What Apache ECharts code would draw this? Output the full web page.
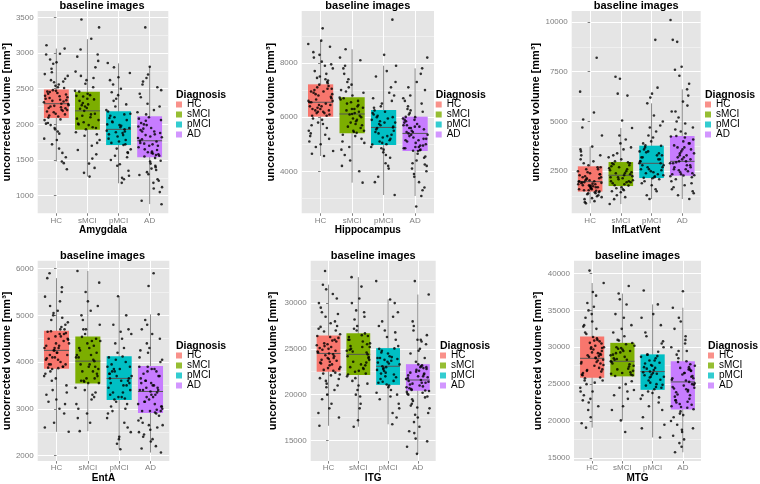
<!DOCTYPE html>
<html>
<head>
<meta charset="utf-8">
<script src="https://cdn.jsdelivr.net/npm/echarts@6/dist/echarts.min.js"></script>
<style>
html, body { margin: 0; padding: 0; background: #fff; }
#chart { width: 760px; height: 484px; }
</style>
</head>
<body>
<div id="chart"></div>
<script>
var diagnoses = ['HC', 'sMCI', 'pMCI', 'AD'];
var regions = ['Amygdala', 'Hippocampus', 'InfLatVent', 'EntA', 'ITG', 'MTG'];
var colors = ['#F8766D', '#7CAE00', '#00BFC4', '#C77CFF'];

// tick labels (major) and minor grid values per region
var amygdalaTicks = [1000, 1500, 2000, 2500, 3000, 3500];
var amygdalaMinor = [750, 1250, 1750, 2250, 2750, 3250];
var hippoTicks = [4000, 6000, 8000];
var hippoMinor = [3000, 5000, 7000, 9000];
var inflatTicks = [2500, 5000, 7500, 10000];
var inflatMinor = [1250, 3750, 6250, 8750];
var entaTicks = [2000, 3000, 4000, 5000, 6000];
var entaMinor = [2500, 3500, 4500, 5500];
var itgTicks = [15000, 20000, 25000, 30000];
var itgMinor = [17500, 22500, 27500, 32500];
var mtgTicks = [15000, 20000, 25000, 30000, 35000, 40000];
var mtgMinor = [17500, 22500, 27500, 32500, 37500];

// box stats: [lower whisker, Q1, median, Q3, upper whisker] for HC, sMCI, pMCI, AD
var amygdalaBox = [[1480, 2090, 2290, 2490, 3063], [1268, 1926, 2190, 2457, 3195], [1174, 1710, 1930, 2184, 2856], [882, 1540, 1770, 2114, 2809]];
var hippoBox = [[4566, 6018, 6550, 7212, 8825], [3582, 5403, 6117, 6732, 8505], [3126, 4972, 5620, 6265, 7900], [3089, 4750, 5400, 6018, 7803]];
var inflatBox = [[890, 1480, 1980, 2750, 3740], [855, 1759, 2300, 2965, 4673], [1105, 2161, 2900, 3786, 5913], [1105, 2278, 3000, 4271, 6616]];
var entaBox = [[2507, 3859, 4250, 4669, 5796], [2521, 3542, 4020, 4549, 5950], [2134, 3190, 3650, 4127, 5408], [2063, 2908, 3370, 3915, 5021]];
var itgBox = [[16600, 22500, 24500, 26448, 32010], [16500, 22140, 24400, 26700, 32835], [16760, 21065, 23100, 25085, 30394], [13530, 20420, 21600, 23326, 30933]];
var mtgBox = [[19100, 25873, 28500, 31444, 38708], [20080, 26052, 28100, 30597, 37282], [17763, 24225, 26700, 29037, 35811], [15758, 21550, 25300, 28102, 35365]];

// individual volumes (jittered points), one list per diagnosis
var amygdalaPts = [
  [2310, 1870, 2455, 2640, 2150, 2980, 2205, 1720, 2380, 2520, 2095, 1456, 2260, 2705, 2345, 1990, 2420, 2870, 2180, 1600, 2480, 2285, 2560, 2125, 3063, 1930, 2360, 2240, 2780, 1370, 2440, 2020, 2600, 2170, 1800, 2395, 2910, 2225, 2470, 3110, 1480, 2330, 2680, 2110,
   2230, 2510, 1950, 2400, 2070, 2620, 2340, 1780, 2460, 2190, 2850, 2270, 1660, 2370, 2140, 2540, 2010, 2290, 2730, 2200, 1900, 2430, 2320, 2590, 2060, 2990, 2250, 1540],
  [2190, 1780, 2410, 3050, 1950, 2620, 2080, 1520, 2300, 2890, 1990, 2460, 1390, 2250, 2740, 2140, 3470, 1860, 2360, 1640, 2520, 2030, 3360, 1268, 2220, 2800, 1930, 2400, 1700, 2120, 2980, 2280,
   2000, 2350, 1840, 2470, 2100, 2680, 1580, 2230, 2950, 1960, 2390, 2060, 1450, 2330, 2150, 2570, 1890, 3200, 2270, 1740, 2430, 2010, 2650, 1320],
  [1930, 1560, 2150, 2500, 1740, 2060, 1420, 2860, 1850, 2330, 1280, 1990, 2620, 1720, 1890, 2200, 1180, 2040, 1610, 2410, 1800, 1230, 2100, 2720, 1960, 1500, 2280, 1660, 2000, 1880, 2560, 1350,
   1760, 2090, 1900, 2250, 1650, 1980, 2450, 1540, 1830, 2180, 1710, 2800, 1950, 1440, 2120, 1780, 2360, 1910, 1250, 2030, 1600, 2660, 1860, 2140],
  [1770, 1420, 2050, 2480, 1600, 1900, 1230, 2700, 1680, 2200, 1550, 1050, 1830, 2380, 1360, 1990, 1120, 1720, 2600, 1580, 2100, 1290, 1860, 3360, 1490, 1950, 930, 1640, 2290, 1810, 1180, 2000, 1560, 2809, 1740, 1400, 2140, 880, 1620, 2560, 1700, 1300, 2080, 1900,
   1650, 1880, 1450, 2020, 1760, 1330, 2170, 1590, 1940, 1210, 1700, 2430, 1530, 1850, 2060, 1380, 1790, 2520, 1610, 1970, 1100, 1730, 2250, 1480, 1920, 1570, 2650, 1820]
];
var hippoPts = [
  [6550, 5600, 7100, 7800, 6200, 6900, 5200, 8300, 6400, 7400, 4900, 6700, 8050, 6050, 7250, 5800, 6600, 4566, 7000, 8600, 6300, 5400, 7600, 6150, 6850, 9280, 5950, 7150, 6450, 5100, 7900, 6250, 6750, 8825, 5700, 7300, 6350, 4750, 6950, 8200, 6100, 7500, 5300, 6500,
   6650, 7050, 5900, 6300, 7350, 6800, 5500, 6150, 7700, 6450, 5000, 6950, 6050, 7450, 6600, 5750, 8400, 6250, 7200, 6550, 5350, 6850, 7950, 6400, 4650, 7050, 6200, 8700],
  [6117, 5100, 6600, 7400, 5500, 6300, 4600, 8100, 5800, 7000, 5420, 6500, 3582, 5950, 7800, 6200, 4900, 6720, 5300, 8505, 6000, 7200, 4200, 6400, 5650, 6900, 5450, 7600, 6050, 4400, 6650, 5850,
   6250, 5700, 6800, 5350, 6450, 7100, 5050, 6150, 7900, 5600, 6550, 4800, 5900, 7300, 6350, 5500, 6700, 4000, 6100, 8200, 5750, 6950, 5200, 6300],
  [5620, 4700, 6100, 6900, 5100, 5800, 4300, 7500, 5350, 6500, 4990, 5950, 3800, 5500, 8300, 6250, 4500, 5700, 7900, 5000, 6000, 9600, 5250, 6700, 4100, 5750, 3126, 6200, 5450, 7100, 4850, 5900,
   5300, 6050, 5650, 4800, 6350, 5150, 5850, 7300, 4600, 5550, 6600, 5050, 6150, 4200, 5400, 6800, 5800, 3600, 5200, 6400, 4900, 7700, 5600, 6000],
  [5400, 4500, 5900, 6600, 4800, 5600, 4000, 7300, 5100, 6200, 4760, 5700, 3600, 5300, 7000, 4900, 6010, 3089, 5500, 8200, 4650, 6400, 5200, 3900, 5800, 4780, 6800, 5000, 2700, 5450, 7803, 4300, 5950, 5150, 6100, 3400, 5650, 4850, 7600, 5350, 4200, 5750, 6300, 4950,
   5250, 4850, 5650, 6150, 4550, 5050, 5850, 6500, 4100, 5350, 4750, 7100, 5550, 3800, 5900, 4950, 6250, 5200, 4400, 5700, 3300, 5450, 6700, 4900, 5600, 4250, 6000, 5150]
];
var inflatPts = [
  [1950, 1500, 2400, 3100, 1700, 2100, 1200, 3740, 1800, 2600, 1550, 2000, 1000, 2250, 3300, 1650, 1900, 8200, 1350, 2500, 1750, 2900, 1450, 2050, 6500, 1850, 890, 2200, 1600, 4700, 2700, 1400, 1980, 5450, 1100, 2350, 1720, 3500, 1520, 2150, 4300, 1880, 5100, 1300,
   1800, 2300, 1450, 2050, 2700, 1650, 1950, 1250, 2450, 1850, 3000, 1550, 2150, 1750, 3600, 1400, 2600, 1920, 1150, 2200, 1700, 2800, 1600, 2000, 950, 2350, 1780, 3300],
  [2300, 1800, 2900, 3900, 2000, 2500, 1300, 4673, 2150, 3300, 1780, 2700, 855, 2400, 7250, 1950, 3100, 1500, 2600, 6400, 2050, 3600, 1100, 2800, 7150, 2200, 4100, 1650, 2450, 5050, 1900, 2950,
   2100, 2650, 1850, 3000, 2350, 1450, 2750, 1950, 3400, 2250, 1600, 2850, 2000, 4300, 2550, 1200, 2400, 3700, 1700, 2900, 6300, 2200, 3200, 1550],
  [2900, 2200, 3700, 4800, 2500, 3200, 1500, 5913, 2700, 4200, 2170, 3400, 1105, 3000, 9100, 2400, 3780, 1800, 2800, 6700, 3500, 2300, 5300, 2000, 3100, 6200, 2600, 4500, 1300, 3300, 2150, 3900,
   3100, 2600, 3500, 2250, 3800, 2900, 4000, 1900, 3300, 2700, 5000, 2450, 3600, 2100, 4700, 3000, 1600, 3450, 2550, 6400, 3200, 2350, 4300, 2800],
  [3000, 2300, 4200, 5500, 2700, 3500, 1600, 6616, 3200, 4700, 2290, 3800, 1105, 3400, 10100, 2600, 4270, 1900, 3100, 9100, 2500, 5200, 1400, 3700, 7600, 2800, 4500, 2000, 3300, 9000, 2400, 6000, 1700, 3900, 7300, 2900, 4900, 2100, 3600, 7750, 2350, 5800, 1300, 4100,
   3200, 2700, 3900, 2450, 4250, 3000, 5000, 2200, 3600, 2900, 6300, 2550, 3400, 1800, 4600, 3100, 2350, 5500, 2800, 3700, 1500, 4000, 2600, 6900, 3300, 2250, 4400, 2950]
];
var entaPts = [
  [4250, 3700, 4600, 5200, 3950, 4400, 3300, 5600, 4100, 4850, 3870, 4500, 2900, 4300, 5400, 4000, 4660, 3500, 4200, 5796, 3900, 5000, 2507, 4350, 5900, 3100, 4550, 4050, 4750, 3600, 4150, 5100, 3880, 4450, 2700, 4300, 5300, 3800, 4620, 3200, 4080, 4950, 3400, 4480,
   4300, 3950, 4700, 4100, 3750, 4550, 4900, 3350, 4200, 4650, 3900, 5050, 4400, 3000, 4150, 4800, 3650, 4350, 5500, 3850, 4500, 4050, 3150, 4600, 4250, 2600, 4700, 3950],
  [4020, 3400, 4450, 5100, 3600, 4200, 2900, 5950, 3800, 4700, 3550, 4300, 2521, 3900, 5500, 4100, 3200, 4540, 3700, 5300, 3000, 4350, 3580, 4800, 2700, 3950, 4500, 3650, 4150, 3300, 4900, 3850,
   3900, 4300, 3650, 4600, 3450, 4150, 5000, 3750, 4400, 2800, 4050, 3600, 5700, 3950, 4250, 3350, 4700, 3100, 4450, 3800, 5200, 3550, 4100, 3250],
  [3650, 3000, 4050, 4600, 3250, 3800, 2600, 5408, 3450, 4300, 3200, 3900, 2134, 3550, 5000, 3700, 2800, 4120, 3350, 4700, 2350, 3750, 3220, 4400, 2500, 3600, 3950, 3100, 4200, 2900, 3500, 3850,
   3550, 3850, 3300, 4000, 3150, 3700, 4500, 2950, 3600, 3250, 4100, 2700, 3800, 3400, 4650, 3050, 3500, 2250, 3900, 3350, 4800, 3650, 2400, 3750],
  [3370, 2800, 3800, 4400, 3000, 3500, 2400, 5021, 3200, 4100, 2920, 3600, 2063, 3300, 4700, 2600, 3900, 3100, 5900, 2450, 3700, 2950, 4250, 2200, 3450, 3050, 4600, 2700, 3400, 5630, 2500, 3850, 3150, 4000, 2300, 3550, 2980, 4800, 2650, 3250, 3750, 2850, 4300, 3400,
   3300, 3600, 3050, 3850, 2950, 3450, 4200, 2750, 3500, 3150, 4500, 2550, 3650, 2900, 3250, 4050, 2350, 3400, 3700, 2650, 3900, 3100, 4900, 2950, 3550, 2150, 3350, 3800]
];
var itgPts = [
  [24500, 21800, 26000, 28500, 23000, 25200, 19500, 30500, 24000, 27200, 22600, 25600, 17500, 23600, 29500, 24800, 20800, 26400, 23300, 32010, 21000, 25000, 16600, 24200, 33500, 22200, 27800, 23800, 25800, 20000, 24600, 31000, 22700, 26200, 18500, 23500, 28000, 21500, 25400, 19000, 24900, 27500, 22900, 30000,
   24000, 25300, 22800, 26300, 23400, 27000, 21200, 24700, 25900, 22300, 28800, 23900, 25100, 20500, 24300, 26600, 22100, 29000, 23700, 25500, 18000, 24400, 26900, 21700, 23200, 27400, 22400, 31500],
  [24400, 21000, 26000, 29000, 22500, 25200, 19000, 32835, 23500, 27500, 22200, 25800, 16500, 24000, 30500, 23000, 26690, 20000, 24800, 31800, 21500, 25500, 17200, 26300, 22800, 28200, 23800, 19800, 25000, 22300, 27000, 24200,
   25200, 23600, 26400, 22600, 24900, 28500, 21800, 25600, 23300, 30000, 24600, 20500, 26000, 22900, 27200, 24100, 18500, 25300, 23200, 29200, 22000, 26500, 24700, 21200],
  [23100, 20000, 24500, 27500, 21500, 23800, 18500, 30394, 22300, 26000, 21100, 24000, 16760, 22800, 29000, 23400, 19500, 25050, 22000, 32400, 20500, 24800, 17500, 23600, 21300, 28500, 22600, 19000, 24200, 21700, 26800, 23000,
   22700, 24100, 21400, 23900, 20800, 25000, 22200, 27000, 23300, 19800, 24600, 21900, 26300, 23500, 18000, 22900, 25300, 21000, 24000, 30000, 22400, 20200, 23700, 28000],
  [21600, 19000, 22800, 26000, 20000, 22000, 17000, 30933, 21000, 24500, 20450, 22500, 14300, 21300, 28000, 19800, 23300, 16000, 22200, 32400, 18500, 23000, 20600, 25500, 13530, 21800, 20200, 27000, 18000, 22600, 21100, 24000, 15200, 20800, 23100, 19500, 26500, 17500, 21500, 22900, 15800, 20400, 25000, 18800,
   21300, 22700, 20100, 23200, 19300, 21900, 24800, 20700, 22300, 17800, 21700, 26000, 20500, 23000, 18600, 22100, 20900, 27500, 21400, 16500, 22400, 19700, 23600, 20300, 25800, 21200, 14900, 22000]
];
var mtgPts = [
  [28500, 25000, 30500, 33500, 26500, 29200, 22500, 38708, 27500, 32000, 25900, 29800, 19700, 28000, 36000, 27000, 31400, 23500, 28800, 40400, 24500, 30200, 19100, 29000, 34500, 26200, 31000, 21500, 28300, 35500, 25500, 30800, 23000, 27800, 37000, 26800, 29500, 24000, 32800, 22000, 28700, 30000, 25200, 34000,
   27800, 30000, 26300, 31200, 28900, 25500, 29700, 33000, 27200, 30600, 24000, 28600, 31800, 26700, 29300, 22800, 28200, 35000, 27600, 30900, 25800, 29100, 20500, 28000, 32500, 26900, 29900, 37500],
  [28100, 25000, 30000, 33000, 26500, 29000, 23000, 37282, 27500, 31500, 26100, 29500, 20080, 28000, 35800, 27000, 30580, 22000, 28500, 38300, 24500, 30200, 18500, 29200, 26300, 32500, 27800, 24000, 29800, 26800, 34000, 28300,
   27700, 29300, 26400, 30400, 28400, 25400, 29700, 32000, 27100, 30900, 24200, 28700, 34500, 26600, 29900, 21500, 28300, 31000, 26200, 29500, 23500, 27400, 36500, 28900],
  [26700, 23000, 28500, 31500, 24500, 27500, 20500, 35811, 25500, 30000, 24300, 27800, 17763, 26000, 34000, 25000, 29000, 21500, 26500, 37700, 22500, 28200, 19500, 27200, 24800, 33000, 26300, 23500, 28800, 24000, 30800, 26900,
   26200, 27900, 25200, 28700, 24600, 27100, 30500, 23800, 26600, 29400, 22000, 26000, 28200, 32000, 25600, 27600, 19000, 26400, 29000, 24900, 34500, 27300, 23200, 25900],
  [25300, 21000, 27500, 31500, 22500, 26000, 18500, 35365, 24000, 29500, 21600, 26500, 15758, 23500, 33500, 22000, 28100, 19500, 25000, 37600, 20500, 27000, 17000, 24500, 30500, 22800, 26800, 16500, 25800, 21800, 28000, 19000, 24800, 32500, 23000, 27200, 20000, 25500, 29000, 22200, 26300, 18000, 24200, 34000,
   24900, 26500, 22800, 27700, 21900, 25600, 29500, 23600, 26100, 20800, 24400, 27300, 22300, 25100, 31000, 23900, 26800, 18800, 24600, 22600, 28500, 25800, 17500, 23300, 27000, 21300, 30000, 24300]
];

var regionData = [
  { box: amygdalaBox, pts: amygdalaPts, ticks: amygdalaTicks, minor: amygdalaMinor },
  { box: hippoBox, pts: hippoPts, ticks: hippoTicks, minor: hippoMinor },
  { box: inflatBox, pts: inflatPts, ticks: inflatTicks, minor: inflatMinor },
  { box: entaBox, pts: entaPts, ticks: entaTicks, minor: entaMinor },
  { box: itgBox, pts: itgPts, ticks: itgTicks, minor: itgMinor },
  { box: mtgBox, pts: mtgPts, ticks: mtgTicks, minor: mtgMinor }
];

// panel layout (pixels) and axis ranges
var panels = [
  { left: 35.7, top: 11, width: 132.6, height: 202.3, min: 753, max: 3590, nameGap: 21.5, legendX: 176, legendY: 89.5, titleY: 0.5 },
  { left: 301.7, top: 11, width: 132.3, height: 202.3, min: 2450, max: 9920, nameGap: 22.7, legendX: 435.7, legendY: 89.5, titleY: 0.5 },
  { left: 571.7, top: 11, width: 129, height: 202.3, min: 390, max: 10550, nameGap: 26.5, legendX: 705, legendY: 89.5, titleY: 0.5 },
  { left: 35.7, top: 260.7, width: 133.6, height: 203.3, min: 1880, max: 6170, nameGap: 23.5, legendX: 176, legendY: 340.5, titleY: 250 },
  { left: 310.7, top: 260.7, width: 125, height: 203.3, min: 12740, max: 34630, nameGap: 32.7, legendX: 440, legendY: 340.5, titleY: 250 },
  { left: 574, top: 260.7, width: 127, height: 203.3, min: 14560, max: 41740, nameGap: 27.2, legendX: 708, legendY: 340.5, titleY: 250 }
];

var FONT = '"Liberation Sans", Arial, sans-serif';
var GREY = '#7F7F7F';
var catIdx = [0, 1, 2, 3];

function renderBox(params, api) {
  var x = api.value(0);
  var lo = api.coord([x, api.value(1)]);
  var q1 = api.coord([x, api.value(2)]);
  var md = api.coord([x, api.value(3)]);
  var q3 = api.coord([x, api.value(4)]);
  var hi = api.coord([x, api.value(5)]);
  var hw = api.size([0.8, 0])[0] / 2;
  return {
    type: 'group',
    children: [
      { type: 'line', shape: { x1: lo[0], y1: lo[1], x2: hi[0], y2: hi[1] }, style: { stroke: '#8a8a8a', lineWidth: 1 } },
      { type: 'rect', shape: { x: q3[0] - hw, y: q3[1], width: hw * 2, height: q1[1] - q3[1] }, style: { fill: colors[x] } },
      { type: 'line', shape: { x1: md[0] - hw, y1: md[1], x2: md[0] + hw, y2: md[1] }, style: { stroke: '#555', lineWidth: 1 } }
    ]
  };
}

var grid = [], xAxis = [], yAxis = [], series = [], title = [], legend = [];

panels.forEach(function (p, i) {
  var d = regionData[i];
  grid.push({ left: p.left, top: p.top, width: p.width, height: p.height, show: true, backgroundColor: '#E5E5E5', borderWidth: 0 });
  title.push({
    text: 'baseline images', left: p.left + p.width / 2, top: p.titleY, textAlign: 'center', padding: 0,
    textStyle: { fontFamily: FONT, fontSize: 11, fontWeight: 'bold', color: '#000' }
  });
  title.push({
    text: 'Diagnosis', left: p.legendX, top: p.legendY, padding: 0,
    textStyle: { fontFamily: FONT, fontSize: 10.5, fontWeight: 'bold', color: '#000' }
  });
  legend.push({
    orient: 'vertical', left: p.legendX, top: p.legendY + 10, padding: 0,
    icon: 'rect', itemWidth: 6, itemHeight: 6, itemGap: 0, selectedMode: false,
    textStyle: { fontFamily: FONT, fontSize: 10, lineHeight: 8.3, color: '#000' },
    data: diagnoses
  });
  xAxis.push({
    type: 'value', gridIndex: i, min: -0.6, max: 3.6,
    name: regions[i], nameLocation: 'middle', nameGap: 11,
    nameTextStyle: { fontFamily: FONT, fontSize: 10, fontWeight: 'bold', color: '#000' },
    axisLine: { show: false },
    axisTick: { show: true, length: 2.5, customValues: catIdx, lineStyle: { color: GREY } },
    axisLabel: {
      customValues: catIdx, margin: 3, fontFamily: FONT, fontSize: 8, color: GREY,
      formatter: function (v) { return diagnoses[Math.round(v)]; }
    },
    splitLine: { show: true, lineStyle: { color: '#fff', width: 1 } }
  });
  yAxis.push({
    type: 'value', gridIndex: i, min: p.min, max: p.max,
    name: 'uncorrected volume [mm³]', nameLocation: 'middle', nameGap: p.nameGap, nameRotate: 90,
    nameTextStyle: { fontFamily: FONT, fontSize: 11, fontWeight: 'bold', color: '#000' },
    axisLine: { show: false },
    axisTick: { show: true, length: 2.5, customValues: d.ticks, lineStyle: { color: GREY } },
    axisLabel: {
      customValues: d.ticks, margin: 4, fontFamily: FONT, fontSize: 8, color: GREY,
      formatter: function (v) { return String(v); }
    },
    splitLine: { show: true, lineStyle: { color: '#fff', width: 1 } }
  });
  yAxis.push({
    type: 'value', gridIndex: i, min: p.min, max: p.max,
    axisLine: { show: false },
    axisTick: { show: false, customValues: d.minor },
    axisLabel: { show: false },
    splitLine: { show: true, lineStyle: { color: '#F2F2F2', width: 0.8 } }
  });

  var boxData = d.box.map(function (b, g) { return [g].concat(b); });
  series.push({
    type: 'custom', xAxisIndex: i, yAxisIndex: 2 * i, renderItem: renderBox,
    data: boxData, z: 2, silent: true, encode: { x: 0, y: [1, 5] }
  });

  var pts = [];
  d.pts.forEach(function (vals, g) {
    vals.forEach(function (v, k) {
      var jit = (((k * 0.6180339887 + g * 0.37 + i * 0.13) % 1) - 0.5) * 0.8;
      pts.push([g + jit, v]);
    });
  });
  series.push({
    type: 'scatter', xAxisIndex: i, yAxisIndex: 2 * i, data: pts,
    symbolSize: 2.6, itemStyle: { color: '#000' }, z: 3, silent: true
  });
});

// empty series so the legends get their colour keys
diagnoses.forEach(function (name, g) {
  series.push({ type: 'scatter', name: name, xAxisIndex: 0, yAxisIndex: 0, data: [], itemStyle: { color: colors[g] } });
});

var chart = echarts.init(document.getElementById('chart'));
chart.setOption({
  animation: false,
  backgroundColor: '#fff',
  textStyle: { fontFamily: FONT },
  title: title,
  legend: legend,
  grid: grid,
  xAxis: xAxis,
  yAxis: yAxis,
  series: series
});
</script>
</body>
</html>
